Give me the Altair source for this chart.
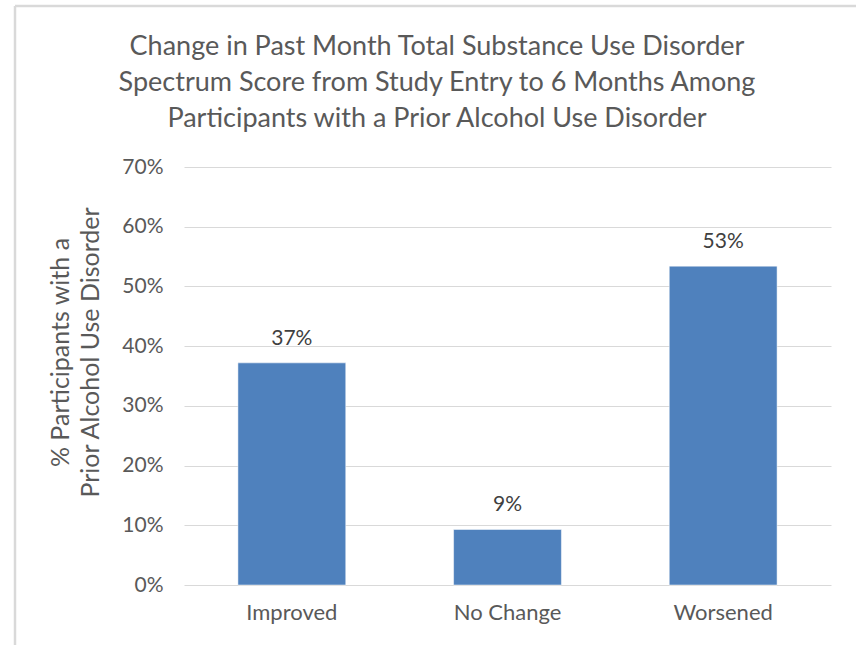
import altair as alt
import pandas as pd

# Share of participants by change in SUD spectrum score
categories = ["Improved", "No Change", "Worsened"]
shares = [0.372, 0.093, 0.534]

title_lines = [
    "Change in Past Month Total Substance Use Disorder",
    "Spectrum Score from Study Entry to 6 Months Among",
    "Participants with a Prior Alcohol Use Disorder",
]
y_title_lines = ["% Participants with a", "Prior Alcohol Use Disorder"]

df = pd.DataFrame({"category": categories, "share": shares})

FONT = "Lato"
TEXT = "#595959"
BAR = "#4f81bd"
GRID = "#d9d9d9"

x_enc = alt.X(
    "category:N",
    sort=categories,
    scale=alt.Scale(paddingInner=0.5, paddingOuter=0.25),
    axis=alt.Axis(
        title=None,
        labelAngle=0,
        labelFontSize=22,
        labelColor=TEXT,
        labelFont=FONT,
        labelPadding=17,
        ticks=False,
        domain=False,
    ),
)
y_enc = alt.Y(
    "share:Q",
    scale=alt.Scale(domain=[0, 0.7], nice=False),
    axis=alt.Axis(
        title=y_title_lines,
        titleFontSize=25,
        titleFont=FONT,
        titleColor=TEXT,
        titleFontWeight="normal",
        titlePadding=18,
        titleLineHeight=30,
        titleY=185,
        format=".0%",
        values=[0, 0.1, 0.2, 0.3, 0.4, 0.5, 0.6, 0.7],
        labelFontSize=21,
        labelColor=TEXT,
        labelFont=FONT,
        labelPadding=21,
        ticks=False,
        domain=False,
        grid=True,
        gridColor=GRID,
        gridWidth=1,
    ),
)

base = alt.Chart(df)

bars = base.mark_bar(color=BAR, stroke="#ffffff", strokeWidth=0.5).encode(x=x_enc, y=y_enc)

labels = base.mark_text(
    baseline="bottom", dy=-14, fontSize=21, font=FONT, color="#404040"
).encode(x=x_enc, y=y_enc, text=alt.Text("share:Q", format=".0%"))

single = alt.Data(values=[{"k": 1}])

# three-line chart heading, centred over the chart body
heading = alt.Chart(single).mark_text(
    align="center",
    baseline="top",
    fontSize=27,
    font=FONT,
    color=TEXT,
    lineHeight=36,
).encode(x=alt.value(253), y=alt.value(-133), text=alt.value(title_lines))

# light outer frame (top and left edges)
frame_top = alt.Chart(single).mark_rule(color=GRID, strokeWidth=2.5).encode(
    x=alt.value(-169), x2=alt.value(672), y=alt.value(-161)
)
frame_left = alt.Chart(single).mark_rule(color=GRID, strokeWidth=2.5).encode(
    x=alt.value(-169), y=alt.value(-161), y2=alt.value(480)
)

chart = (
    alt.layer(frame_top, frame_left, heading, bars, labels)
    .properties(
        width=647,
        height=418,
        autosize=alt.AutoSizeParams(type="none"),
        padding={"left": 184, "top": 167, "right": 25, "bottom": 60},
        background="#ffffff",
    )
    .configure_view(stroke=None)
)

chart.save("out.html", embed_options={"renderer": "svg", "actions": False})
